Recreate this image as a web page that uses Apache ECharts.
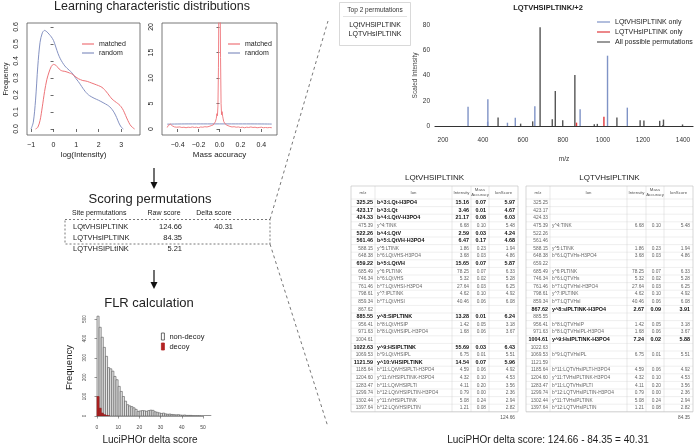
<!DOCTYPE html>
<html><head><meta charset="utf-8">
<script src="https://cdn.jsdelivr.net/npm/echarts@6/dist/echarts.min.js"></script>
<style>html,body{margin:0;padding:0;background:#fff}#c{width:696px;height:448px}</style>
</head><body><div id="c"></div>
<script>
// ---------------- DATA ----------------
// Density of log(Intensity)
const logIntRandom = [[-1.0,0.0],[-0.9,0.04],[-0.8,0.17],[-0.7,0.37],[-0.6,0.51],[-0.5,0.565],[-0.4,0.58],[-0.3,0.572],[-0.2,0.558],[-0.1,0.542],[0.0,0.52],[0.1,0.482],[0.2,0.443],[0.3,0.413],[0.4,0.39],[0.5,0.371],[0.6,0.357],[0.7,0.345],[0.8,0.333],[0.9,0.315],[1.0,0.296],[1.1,0.279],[1.2,0.26],[1.3,0.24],[1.4,0.222],[1.5,0.207],[1.6,0.196],[1.8,0.181],[2.0,0.169],[2.2,0.155],[2.4,0.14],[2.5,0.13],[2.6,0.115],[2.7,0.095],[2.8,0.068],[2.9,0.036],[3.0,0.012],[3.1,0.0]];
const logIntMatched = [[-0.8,0.0],[-0.7,0.01],[-0.6,0.05],[-0.5,0.13],[-0.4,0.22],[-0.3,0.29],[-0.2,0.335],[-0.1,0.368],[0.0,0.38],[0.1,0.375],[0.2,0.36],[0.3,0.347],[0.4,0.341],[0.5,0.339],[0.6,0.335],[0.7,0.33],[0.8,0.325],[0.9,0.315],[1.0,0.305],[1.1,0.296],[1.2,0.29],[1.3,0.285],[1.4,0.283],[1.5,0.28],[1.6,0.275],[1.7,0.27],[1.8,0.265],[1.9,0.26],[2.0,0.255],[2.1,0.249],[2.2,0.24],[2.3,0.226],[2.4,0.21],[2.5,0.192],[2.6,0.176],[2.7,0.165],[2.8,0.155],[2.9,0.145],[3.0,0.131],[3.1,0.11],[3.2,0.08],[3.3,0.05],[3.4,0.025],[3.5,0.01],[3.6,0.0]];
const logIntTicks = [-1,0,1,2,3];
const freqTicks = [0,0.1,0.2,0.3,0.4,0.5,0.6];

// Density of mass accuracy
const massRandom = [[-0.5,0.95],[-0.3,1.0],[0.0,1.0],[0.3,1.0],[0.5,0.97]];
const massMatched = [[-0.50,0.3],[-0.49,0.7],[-0.48,0.9],[-0.47,0.95],[-0.46,0.8],[-0.45,0.6],[-0.44,0.45],[-0.43,0.4],[-0.42,0.45],[-0.41,0.35],[-0.40,0.3],[-0.38,0.4],[-0.36,0.3],[-0.34,0.35],[-0.32,0.25],[-0.30,0.35],[-0.28,0.3],[-0.26,0.4],[-0.24,0.3],[-0.22,0.35],[-0.20,0.25],[-0.18,0.4],[-0.16,0.35],[-0.14,0.45],[-0.12,0.4],[-0.10,0.5],[-0.08,0.65],[-0.06,0.8],[-0.05,1.0],[-0.04,1.4],[-0.03,2.1],[-0.025,3.0],[-0.02,2.6],[-0.015,4.5],[-0.01,12],[-0.005,30],[0.0,32],[0.005,30],[0.01,14],[0.015,5],[0.02,2.8],[0.025,3.4],[0.03,2.5],[0.035,2.0],[0.04,1.5],[0.05,1.1],[0.06,0.9],[0.07,0.75],[0.08,0.6],[0.10,0.5],[0.12,0.4],[0.14,0.45],[0.16,0.35],[0.18,0.4],[0.20,0.3],[0.22,0.35],[0.24,0.25],[0.26,0.35],[0.28,0.3],[0.30,0.4],[0.32,0.3],[0.34,0.35],[0.36,0.25],[0.38,0.3],[0.40,0.35],[0.42,0.25],[0.44,0.3],[0.46,0.25],[0.48,0.3],[0.50,0.25]];
const massTicks = [-0.4,-0.2,0,0.2,0.4];
const massFreqTicks = [0,5,10,15,20];

// Scoring permutations
const permNames = ['LQtVHSIPLTINK','LQTVHsIPLTINK','LQTVHSIPLtINK'];
const rawScores = ['124.66','84.35','5.21'];
const deltaScores = ['40.31','',''];

// FLR histogram (bin width 1, starting at 0)
const nonDecoyCounts = [512,455,404,352,306,248,242,230,203,186,152,126,100,76,58,52,48,42,34,24,26,28,27,24,28,30,29,22,19,16,13,15,11,9,10,8,7,6,7,5,4,5,3,3,3,2,2,2,2,1,1,1,1,1];
const decoyCounts = [100,40,15,7,3,1];

// Spectrum / tables
const mzList = [325.25,423.17,424.33,475.39,522.26,561.46,588.15,648.38,659.22,685.49,746.34,761.46,798.61,859.34,867.62,885.55,956.41,971.63,1004.61,1022.63,1069.53,1121.59,1185.64,1204.60,1283.47,1299.74,1302.44,1397.64];
const intensityList = [15.16,3.46,21.17,6.68,2.59,6.47,1.86,3.68,15.65,78.25,5.32,27.64,4.62,40.46,2.67,13.28,1.42,1.68,7.24,55.69,6.75,14.54,4.59,4.32,4.11,0.79,5.08,1.21];
const massAccList = [0.07,0.01,0.08,0.10,0.03,0.17,0.23,0.03,0.07,0.07,0.02,0.03,0.10,0.06,0.09,0.01,0.05,0.06,0.02,0.03,0.01,0.07,0.06,0.10,0.20,0.00,0.24,0.08];
const ionScoreList = [5.97,4.67,6.03,5.48,4.24,4.68,1.94,4.86,5.87,6.33,5.28,6.25,4.92,6.08,3.91,6.24,3.18,3.67,5.88,6.43,5.51,5.96,4.92,4.53,3.56,2.36,2.94,2.82];
// 0 = not matched, 1 = matched by both, 2 = unique to this permutation
const matchT = [2,2,2,1,2,2,1,1,2,1,1,1,1,1,0,2,1,1,0,2,1,2,1,1,1,1,1,1];
const matchS = [0,0,0,1,0,0,1,1,0,1,1,1,1,1,2,0,1,1,2,0,1,0,1,1,1,1,1,1];
const ionsT = ['b^3:LQt-H3PO4','b^3:LQt','b^4:LQtV-H3PO4','y^4:TINK','b^4:LQtV','b^5:LQtVH-H3PO4','y^5:LTINK','b^6:LQtVHS-H3PO4','b^5:LQtVH','y^6:PLTINK','b^6:LQtVHS','b^7:LQtVHSI-H3PO4','y^7:IPLTINK','b^7:LQtVHSI','','y^8:SIPLTINK','b^8:LQtVHSIP','b^8:LQtVHSIPL-H3PO4','','y^9:HSIPLTINK','b^9:LQtVHSIPL','y^10:VHSIPLTINK','b^11:LQtVHSIPLTI-H3PO4','y^11:tVHSIPLTINK-H3PO4','b^11:LQtVHSIPLTI','b^12:LQtVHSIPLTIN-H3PO4','y^11:tVHSIPLTINK','b^12:LQtVHSIPLTIN'];
const ionsS = ['','','','y^4:TINK','','','y^5:LTINK','b^6:LQTVHs-H3PO4','','y^6:PLTINK','b^6:LQTVHs','b^7:LQTVHsI-H3PO4','y^7:IPLTINK','b^7:LQTVHsI','y^8:sIPLTINK-H3PO4','','b^8:LQTVHsIP','b^8:LQTVHsIPL-H3PO4','y^9:HsIPLTINK-H3PO4','','b^9:LQTVHsIPL','','b^11:LQTVHsIPLTI-H3PO4','y^11:TVHsIPLTINK-H3PO4','b^11:LQTVHsIPLTI','b^12:LQTVHsIPLTIN-H3PO4','y^11:TVHsIPLTINK','b^12:LQTVHsIPLTIN'];
const tableHeads = ['m/z','Ion','Intensity','Mass\nAccuracy','IonScore'];
const totalT = '124.66', totalS = '84.35';
const mzTicks = [200,400,600,800,1000,1200,1400];

// ---------------- CHART ----------------
const chart = echarts.init(document.getElementById('c'), null, {renderer:'canvas'});
const FF = 'Liberation Sans, Arial, Helvetica, sans-serif';
const TXT = '#222';
const RED = '#EE7378', BLUE = '#8592C2';
const SP_BLUE = '#7F93C6', SP_RED = '#E0383C', SP_GRAY = '#555555';
const minus = s => String(s).replace('-', '\u2212');

const peaksT = [], peaksS = [], peaksAll = [];
mzList.forEach((mz,i)=>{
  const p = [mz, intensityList[i]];
  if (matchT[i]===2) peaksT.push(p); else if (matchS[i]===2) peaksS.push(p); else peaksAll.push(p);
});

function peakRender(color){
  return (params, api) => {
    const a = api.coord([api.value(0), 0]), b = api.coord([api.value(0), api.value(1)]);
    return {type:'line', shape:{x1:a[0], y1:a[1], x2:b[0], y2:b[1]}, style:{stroke:color, lineWidth:1.4}};
  };
}
function histRender(fill, stroke){
  return (params, api) => {
    const p0 = api.coord([api.value(0), 0]), p1 = api.coord([api.value(1), api.value(2)]);
    return {type:'rect', shape:{x:p0[0], y:p1[1], width:p1[0]-p0[0], height:p0[1]-p1[1]}, style:{fill, stroke, lineWidth:0.6}};
  };
}

// graphic helpers
const G = [];
function T(x, y, text, o={}){
  G.push({type:'text', x, y, silent:true, z:10, style:{text, fontSize:o.fs||7, fontFamily:FF, fontWeight:o.fw||'normal', fill:o.c||TXT, align:o.a||'left', verticalAlign:'middle', textAlign:o.a||'left', textVerticalAlign:'middle', lineHeight:o.lh||undefined}});
}
function L(x1,y1,x2,y2,o={}){
  G.push({type:'line', silent:true, z:9, shape:{x1,y1,x2,y2}, style:{stroke:o.c||'#444', lineWidth:o.w||1, lineDash:o.d||null}});
}
function R(x,y,w,h,o={}){
  G.push({type:'rect', silent:true, z:9, shape:{x,y,width:w,height:h}, style:{fill:o.f||'none', stroke:o.c||'#444', lineWidth:o.w||1, lineDash:o.d||null}});
}
function arrow(x, y1, y2){
  L(x, y1, x, y2-5, {c:'#111', w:1.2});
  G.push({type:'polygon', silent:true, z:9, shape:{points:[[x-3.5,y2-7],[x+3.5,y2-7],[x,y2]]}, style:{fill:'#111'}});
}

// Titles
T(152, 7, 'Learning characteristic distributions', {fs:12.5, a:'center'});
arrow(154, 168, 189);
T(150, 199, 'Scoring permutations', {fs:13, a:'center'});
// scoring table
T(72, 213, 'Site permutations', {fs:7});
T(164, 213, 'Raw score', {fs:7, a:'center'});
T(214, 213, 'Delta score', {fs:7, a:'center'});
R(65, 219.5, 205, 24.5, {c:'#555', w:0.8, d:[2,2]});
permNames.forEach((p,i)=>{
  const y = 227 + i*11;
  T(73, y, p, {fs:7.5});
  T(182, y, rawScores[i], {fs:7.5, a:'right'});
  if (deltaScores[i]) T(233, y, deltaScores[i], {fs:7.5, a:'right'});
});
arrow(154, 270, 289);
T(149, 303, 'FLR calculation', {fs:13, a:'center'});

// connector dashed lines
L(270, 219.5, 328, 21, {c:'#555', w:0.8, d:[3,3]});
L(270, 244, 328, 427, {c:'#555', w:0.8, d:[3,3]});

// Top 2 permutations box
R(339.5, 2.5, 71, 43, {c:'#cfcfcf', w:0.8});
T(375, 10, 'Top 2 permutations', {fs:6.5, c:'#333', a:'center'});
L(343, 16.5, 407, 16.5, {c:'#cfcfcf', w:0.6});
T(375, 25, 'LQtVHSIPLTINK', {fs:7, a:'center'});
T(375, 34, 'LQTVHsIPLTINK', {fs:7, a:'center'});

// spectrum title
T(548, 8, 'LQTVHSIPLTINK/+2', {fs:7.5, fw:'bold', a:'center'});

// tables
function drawTable(x0, title, ions, match, total){
  const cw = [24,77,19,18,29];
  const xs = [x0]; cw.forEach(w=>xs.push(xs[xs.length-1]+w));
  const W = xs[5]-x0, top = 186, hh = 13, rh = 7.6, n = mzList.length;
  const bottom = top + hh + n*rh;
  T(x0+W/2, 178, title, {fs:8, a:'center'});
  tableHeads.forEach((h,i)=> T((xs[i]+xs[i+1])/2, top+hh/2, h, {fs:4.3, a:'center', c:'#555', lh:5}));
  for (let r=0;r<=n;r++) L(x0, top+hh+r*rh, xs[5], top+hh+r*rh, {c:'#dedede', w:0.5});
  for (let i=1;i<5;i++) L(xs[i], top, xs[i], bottom, {c:'#d0d0d0', w:0.5});
  R(x0, top, W, bottom-top, {c:'#bdbdbd', w:0.6});
  for (let r=0;r<n;r++){
    const y = top + hh + (r+0.5)*rh;
    const b = match[r]===2;
    const o = b ? {fs:5.4, fw:'bold', c:'#111'} : {fs:4.8, c:'#666'};
    T(xs[1]-2, y, mzList[r].toFixed(2), Object.assign({}, o, {a:'right'}));
    if (match[r]){
      T(xs[1]+2, y, ions[r], Object.assign({}, o, {a:'left'}));
      T(xs[3]-2, y, intensityList[r].toFixed(2), Object.assign({}, o, {a:'right'}));
      T(xs[4]-3, y, massAccList[r].toFixed(2), Object.assign({}, o, {a:'right'}));
      T(xs[5]-3, y, ionScoreList[r].toFixed(2), Object.assign({}, o, {a:'right'}));
    }
  }
  T(xs[5]-3, bottom+6, total, {fs:4.8, c:'#555', a:'right'});
}
drawTable(351, 'LQtVHSIPLTINK', ionsT, matchT, totalT);
drawTable(526, 'LQTVHsIPLTINK', ionsS, matchS, totalS);
T(548, 440, 'LuciPHOr delta score: 124.66 - 84.35 = 40.31', {fs:10, a:'center'});

const axTick = {lineStyle:{color:'#444', width:0.8}};
const option = {
  animation: false,
  backgroundColor: '#fff',
  textStyle: {fontFamily: FF},
  grid: [
    {left:27, top:23, width:113, height:112, show:true, borderColor:'#555', borderWidth:0.8},
    {left:162, top:23, width:115, height:112, show:true, borderColor:'#555', borderWidth:0.8},
    {left:97, top:319, width:106, height:97},
    {left:90, top:299, width:122, height:117},
    {left:435, top:25, width:258, height:101}
  ],
  xAxis: [
    {gridIndex:0, type:'value', min:-1.18, max:3.84, axisLine:{show:false}, splitLine:{show:false},
     axisTick:{show:true, customValues:logIntTicks, length:3, ...axTick},
     axisLabel:{customValues:logIntTicks, formatter:v=>minus(v), fontSize:7, color:TXT, margin:7},
     name:'log(Intensity)', nameLocation:'middle', nameGap:16, nameTextStyle:{fontSize:8, color:TXT}},
    {gridIndex:1, type:'value', min:-0.55, max:0.55, axisLine:{show:false}, splitLine:{show:false},
     axisTick:{show:true, customValues:massTicks, length:3, ...axTick},
     axisLabel:{customValues:massTicks, formatter:v=>minus(Number(v).toFixed(1)), fontSize:7, color:TXT, margin:7},
     name:'Mass accuracy', nameLocation:'middle', nameGap:16, nameTextStyle:{fontSize:8, color:TXT}},
    {gridIndex:2, type:'value', min:0, max:50, interval:10, offset:5, splitLine:{show:false},
     axisLine:{show:true, lineStyle:{color:'#555', width:0.6}},
     axisTick:{show:true, length:2.5, lineStyle:{color:'#555', width:0.6}},
     axisLabel:{fontSize:5, color:'#444', margin:4},
     name:'LuciPHOr delta score', nameLocation:'middle', nameGap:14, nameTextStyle:{fontSize:10, color:TXT}},
    {gridIndex:3, type:'value', min:-3.3, max:54.4, show:false},
    {gridIndex:4, type:'value', min:160, max:1450, splitLine:{show:false},
     axisLine:{show:true, lineStyle:{color:'#333', width:1.2}}, axisTick:{show:false},
     axisLabel:{customValues:mzTicks, formatter:v=>String(v), fontSize:6.5, color:'#333', margin:11},
     name:'m/z', nameLocation:'middle', nameGap:30, nameTextStyle:{fontSize:6.5, color:'#333'}}
  ],
  yAxis: [
    {gridIndex:0, type:'value', min:-0.0353, max:0.6235, axisLine:{show:false}, splitLine:{show:false},
     axisTick:{show:true, customValues:freqTicks, length:3, ...axTick},
     axisLabel:{customValues:freqTicks, rotate:90, formatter:v=>Number(v).toFixed(1), fontSize:7, color:TXT, margin:7},
     name:'Frequency', nameLocation:'middle', nameGap:17, nameTextStyle:{fontSize:7, color:TXT}},
    {gridIndex:1, type:'value', min:-1.176, max:20.78, axisLine:{show:false}, splitLine:{show:false},
     axisTick:{show:true, customValues:massFreqTicks, length:3, ...axTick},
     axisLabel:{customValues:massFreqTicks, rotate:90, fontSize:7, color:TXT, margin:7}},
    {gridIndex:2, type:'value', min:0, max:500, interval:100, offset:7, splitLine:{show:false},
     axisLine:{show:true, lineStyle:{color:'#555', width:0.6}},
     axisTick:{show:true, length:2.5, lineStyle:{color:'#555', width:0.6}},
     axisLabel:{rotate:90, fontSize:4.5, color:'#444', margin:3},
     name:'Frequency', nameLocation:'middle', nameGap:16, nameTextStyle:{fontSize:9.5, color:TXT}},
    {gridIndex:3, type:'value', min:0, max:600, show:false},
    {gridIndex:4, type:'value', min:0, max:80, interval:20, splitLine:{show:false},
     axisLine:{show:false}, axisTick:{show:false},
     axisLabel:{fontSize:6.5, color:'#333', margin:5},
     name:'Scaled Intensity', nameLocation:'middle', nameGap:14, nameTextStyle:{fontSize:6.5, color:'#444'}}
  ],
  legend: [
    {left:82, top:39.5, orient:'vertical', icon:'rect', itemWidth:12, itemHeight:1.2, itemGap:0, padding:0,
     selectedMode:false, textStyle:{fontSize:7, lineHeight:9, color:TXT}, data:['matched','random']},
    {left:228, top:39.5, orient:'vertical', icon:'rect', itemWidth:12, itemHeight:1.2, itemGap:0, padding:0,
     selectedMode:false, textStyle:{fontSize:7, lineHeight:9, color:TXT}, data:['matched','random']},
    {left:161, top:332.5, orient:'vertical', icon:'rect', itemWidth:3, itemHeight:7, itemGap:2, padding:0,
     selectedMode:false, textStyle:{fontSize:7.5, lineHeight:8, color:TXT},
     data:[{name:'non-decoy', itemStyle:{color:'#fff', borderColor:'#444', borderWidth:0.8}},
           {name:'decoy', itemStyle:{color:'#B22222', borderColor:'#B22222', borderWidth:0.8}}]},
    {left:597, top:17, orient:'vertical', icon:'rect', itemWidth:13, itemHeight:1.2, itemGap:0, padding:0,
     selectedMode:false, textStyle:{fontSize:7, lineHeight:10, color:TXT},
     data:['LQtVHSIPLTINK only','LQTVHsIPLTINK only','All possible permutations']}
  ],
  series: [
    {name:'random', type:'line', xAxisIndex:0, yAxisIndex:0, data:logIntRandom, smooth:0.3, symbol:'none', color:BLUE, lineStyle:{width:1, color:BLUE}},
    {name:'matched', type:'line', xAxisIndex:0, yAxisIndex:0, data:logIntMatched, smooth:0.3, symbol:'none', color:RED, lineStyle:{width:1, color:RED}},
    {name:'random', type:'line', xAxisIndex:1, yAxisIndex:1, data:massRandom, smooth:0.4, symbol:'none', color:BLUE, lineStyle:{width:1, color:BLUE}},
    {name:'matched', type:'line', xAxisIndex:1, yAxisIndex:1, data:massMatched, symbol:'none', clip:true, color:RED, lineStyle:{width:0.9, color:RED}},
    {name:'non-decoy', type:'custom', xAxisIndex:3, yAxisIndex:3, clip:true, color:'#fff',
     data:nonDecoyCounts.map((c,i)=>[i, i+1, c]), renderItem:histRender('#e4e4e4','#555')},
    {name:'decoy', type:'custom', xAxisIndex:3, yAxisIndex:3, clip:true, color:'#B22222',
     data:decoyCounts.map((c,i)=>[i, i+1, c]), renderItem:histRender('#B22222','#8B1a1a')},
    {name:'All possible permutations', type:'custom', xAxisIndex:4, yAxisIndex:4, clip:true, color:SP_GRAY, itemStyle:{color:SP_GRAY},
     data:peaksAll, renderItem:peakRender(SP_GRAY)},
    {name:'LQtVHSIPLTINK only', type:'custom', xAxisIndex:4, yAxisIndex:4, clip:true, color:SP_BLUE, itemStyle:{color:SP_BLUE},
     data:peaksT, renderItem:peakRender(SP_BLUE)},
    {name:'LQTVHsIPLTINK only', type:'custom', xAxisIndex:4, yAxisIndex:4, clip:true, color:SP_RED, itemStyle:{color:SP_RED},
     data:peaksS, renderItem:peakRender(SP_RED)}
  ],
  graphic: G
};
chart.setOption(option);
</script></body></html>
